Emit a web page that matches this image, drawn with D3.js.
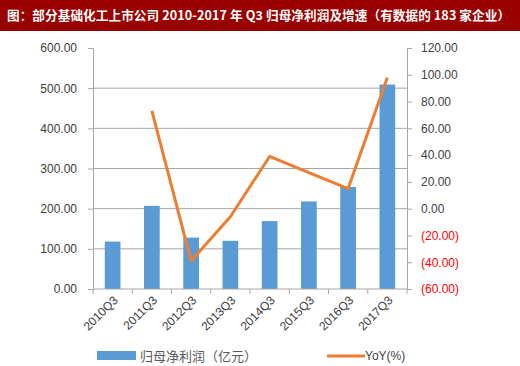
<!DOCTYPE html>
<html>
<head>
<meta charset="utf-8">
<script src="https://cdn.jsdelivr.net/npm/d3@7"></script>
<style>
  body { margin: 0; background: #fff; }
  svg { display: block; }
</style>
</head>
<body>
<svg id="chart"></svg>
<script>
// data
const quarters = ["2010Q3", "2011Q3", "2012Q3", "2013Q3", "2014Q3", "2015Q3", "2016Q3", "2017Q3"];
const profit = [118, 207, 128, 120, 169, 218, 254, 509];       // 归母净利润（亿元）
const yoy = [null, 73, -39, -6, 39, 27, 15, 98];                // YoY(%)
const leftTicks = [0, 100, 200, 300, 400, 500, 600];
const rightTicks = [-60, -40, -20, 0, 20, 40, 60, 80, 100, 120];

const title = "图：部分基础化工上市公司 2010-2017 年 Q3 归母净利润及增速（有数据的 183 家企业）";

const width = 520, height = 366;
const margin = { top: 48, right: 113, bottom: 77, left: 93 };
const cjk = '"Noto Sans CJK SC", "Noto Sans", sans-serif';
const num = '"Liberation Sans", Arial, sans-serif';

const svg = d3.select('#chart')
  .attr('width', width)
  .attr('height', height);

// title bar
svg.append('rect')
  .attr('width', width).attr('height', 31)
  .attr('fill', '#990000');
svg.append('text')
  .attr('x', 7).attr('y', 17)
  .attr('dominant-baseline', 'middle')
  .attr('fill', '#fff')
  .attr('font-family', cjk)
  .attr('font-weight', 'bold')
  .attr('font-size', '12.6px')
  .attr('textLength', 503)
  .text(title);

const x = d3.scaleBand()
  .domain(quarters)
  .range([margin.left, width - margin.right])
  .paddingInner(0.6).paddingOuter(0.3);

const yL = d3.scaleLinear().domain([0, 600]).range([height - margin.bottom, margin.top]);
const yR = d3.scaleLinear().domain([-60, 120]).range([height - margin.bottom, margin.top]);

const fmt = d3.format('.2f');
const fmtR = d => d < 0 ? `(${fmt(-d)})` : fmt(d);

// gridlines
svg.append('g')
  .selectAll('line')
  .data(leftTicks.filter(d => d > 0 && d < 600))
  .join('line')
    .attr('x1', margin.left).attr('x2', width - margin.right)
    .attr('y1', d => yL(d)).attr('y2', d => yL(d))
    .attr('stroke', '#a6a6a6').attr('stroke-width', 1);

// bars
svg.append('g')
  .selectAll('rect')
  .data(quarters)
  .join('rect')
    .attr('x', d => x(d))
    .attr('width', x.bandwidth())
    .attr('y', (d, i) => yL(profit[i]))
    .attr('height', (d, i) => yL(0) - yL(profit[i]))
    .attr('fill', '#5b9bd5');

// left axis
const leftAxis = svg.append('g')
  .attr('transform', `translate(${margin.left},0)`)
  .call(d3.axisLeft(yL).tickValues(leftTicks).tickFormat(fmt).tickSize(5).tickPadding(11));
leftAxis.select('.domain').attr('stroke', '#a6a6a6');
leftAxis.selectAll('.tick line').attr('stroke', '#a6a6a6');
leftAxis.selectAll('text')
  .attr('font-family', num).attr('font-size', '12px').attr('fill', '#404040');

// right axis
const rightAxis = svg.append('g')
  .attr('transform', `translate(${width - margin.right},0)`)
  .call(d3.axisRight(yR).tickValues(rightTicks).tickFormat(fmtR).tickSize(5).tickPadding(9));
rightAxis.select('.domain').attr('stroke', '#a6a6a6');
rightAxis.selectAll('.tick line').attr('stroke', '#a6a6a6');
rightAxis.selectAll('text')
  .attr('font-family', num).attr('font-size', '12px')
  .attr('fill', d => d < 0 ? '#ff0000' : '#404040');

// x axis: ticks between categories
const xg = svg.append('g').attr('transform', `translate(0,${yL(0)})`);
xg.append('line')
  .attr('x1', margin.left).attr('x2', width - margin.right)
  .attr('stroke', '#a6a6a6');
const catW = (width - margin.left - margin.right) / quarters.length;
xg.selectAll('line.tk')
  .data(d3.range(quarters.length + 1))
  .join('line').attr('class', 'tk')
    .attr('x1', i => margin.left + i * catW)
    .attr('x2', i => margin.left + i * catW)
    .attr('y1', 0).attr('y2', 5)
    .attr('stroke', '#a6a6a6');
xg.selectAll('text')
  .data(quarters)
  .join('text')
    .attr('transform', d => `translate(${x(d) + x.bandwidth() / 2 + 3},${9}) rotate(-45)`)
    .attr('text-anchor', 'end')
    .attr('dy', '0.35em')
    .attr('font-family', num).attr('font-size', '12px').attr('fill', '#404040')
    .text(d => d);

// yoy line
const line = d3.line()
  .defined(d => d[1] != null)
  .x(d => x(d[0]) + x.bandwidth() / 2)
  .y(d => yR(d[1]));
svg.append('path')
  .datum(quarters.map((q, i) => [q, yoy[i]]))
  .attr('d', line)
  .attr('fill', 'none')
  .attr('stroke', '#ed7d31')
  .attr('stroke-width', 3)
  .attr('stroke-linejoin', 'round');

// legend
const lg = svg.append('g');
lg.append('rect')
  .attr('x', 97).attr('y', 351).attr('width', 39).attr('height', 9)
  .attr('fill', '#5b9bd5');
lg.append('text')
  .attr('x', 140).attr('y', 356).attr('dy', '0.35em')
  .attr('font-family', cjk).attr('font-size', '13px').attr('fill', '#595959')
  .text('归母净利润（亿元）');
lg.append('line')
  .attr('x1', 327).attr('x2', 365).attr('y1', 356).attr('y2', 356)
  .attr('stroke', '#ed7d31').attr('stroke-width', 3);
lg.append('text')
  .attr('x', 365).attr('y', 356).attr('dy', '0.35em')
  .attr('font-family', num).attr('font-size', '12px').attr('fill', '#404040')
  .text('YoY(%)');
</script>
</body>
</html>
